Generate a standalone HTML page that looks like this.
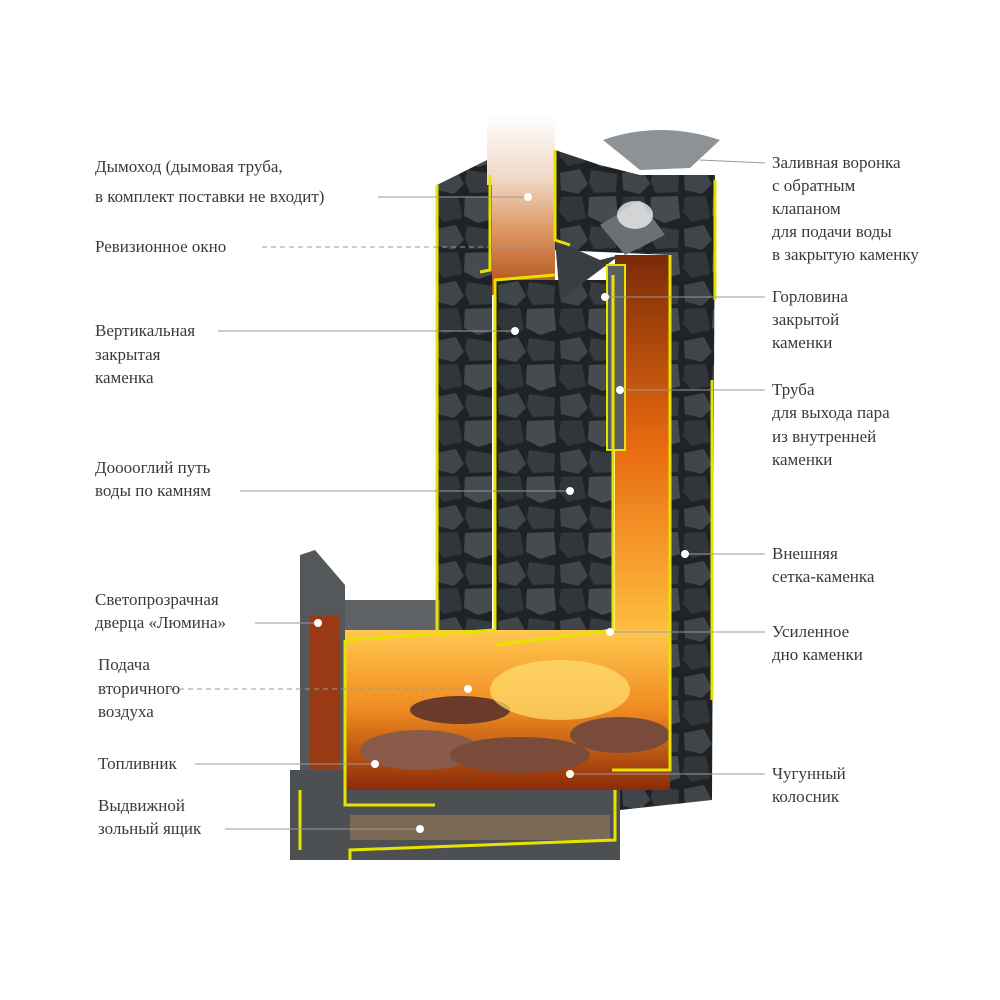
<!DOCTYPE html>
<html><head><meta charset="utf-8"><style>
html,body{margin:0;padding:0;background:#fff;width:1000px;height:1000px;overflow:hidden}
svg{display:block}
text{font-family:"Liberation Serif",serif;font-size:17px;fill:#3a3a3a}
</style></head><body>
<svg width="1000" height="1000" viewBox="0 0 1000 1000" xmlns="http://www.w3.org/2000/svg">
<defs>
<linearGradient id="pipe" x1="0" y1="0" x2="0" y2="1">
<stop offset="0" stop-color="#fff"/><stop offset="0.35" stop-color="#f1d8c8"/><stop offset="0.6" stop-color="#e0a070"/><stop offset="1" stop-color="#b04a10"/></linearGradient>
<linearGradient id="fire" x1="0" y1="0" x2="0" y2="1">
<stop offset="0" stop-color="#ffc850"/><stop offset="0.5" stop-color="#f08a20"/><stop offset="1" stop-color="#8a2a08"/></linearGradient>
<linearGradient id="fireV" x1="0" y1="0" x2="0" y2="1">
<stop offset="0" stop-color="#7a2a08"/><stop offset="0.5" stop-color="#e86a10"/><stop offset="1" stop-color="#ffc040"/></linearGradient>
<pattern id="stones" width="62" height="56" patternUnits="userSpaceOnUse">
<rect width="62" height="56" fill="#1f2326"/>
<polygon points="2,5 22,1 30,16 20,26 3,22" fill="#3f4548"/>
<polygon points="33,2 59,6 58,24 36,25 31,14" fill="#353b3e"/>
<polygon points="3,29 24,28 28,50 10,54 1,44" fill="#30363a"/>
<polygon points="31,29 58,28 60,50 44,55 30,48" fill="#454b4f"/>
</pattern>
</defs>

<rect x="487" y="115" width="68" height="180" fill="url(#pipe)"/>
<path d="M437,185 L487,160 L487,295 L437,295Z" fill="url(#stones)"/>
<rect x="437" y="185" width="55" height="445" fill="url(#stones)"/>
<path d="M555,150 L600,165 L640,175 L715,175 L712,800 L620,810 L620,630 L670,630 L670,255 L555,250Z" fill="url(#stones)"/>
<rect x="615" y="255" width="55" height="380" fill="url(#fireV)"/>
<rect x="495" y="280" width="118" height="350" fill="url(#stones)"/>
<path d="M555,240 L600,260 L620,255 L560,300Z" fill="#3a3e40"/>
<rect x="607" y="265" width="18" height="185" fill="#5a5f62" stroke="#e8e200" stroke-width="2"/>
<path d="M603,140 Q660,120 720,140 L690,168 L640,170Z" fill="#8d9296"/>
<path d="M600,225 L640,200 L665,235 L625,255Z" fill="#6a7074"/>
<ellipse cx="635" cy="215" rx="18" ry="14" fill="#eeeeee" opacity="0.8"/>
<path d="M300,555 L315,550 L345,585 L345,850 L300,850Z" fill="#55585a"/>
<rect x="310" y="615" width="30" height="175" fill="#9a3a14"/>
<rect x="345" y="600" width="95" height="40" fill="#606365"/>
<rect x="290" y="770" width="330" height="90" fill="#4d5052"/>
<rect x="350" y="815" width="260" height="25" fill="#7a6a55"/>
<rect x="345" y="630" width="325" height="160" fill="url(#fire)"/>
<ellipse cx="420" cy="750" rx="60" ry="20" fill="#8a5a4a"/>
<ellipse cx="520" cy="755" rx="70" ry="18" fill="#7a4a3a"/>
<ellipse cx="620" cy="735" rx="50" ry="18" fill="#7a4a3a"/>
<ellipse cx="460" cy="710" rx="50" ry="14" fill="#6a3a2a"/>
<ellipse cx="560" cy="690" rx="70" ry="30" fill="#ffe070" opacity="0.7"/>
<g fill="none" stroke="#e8e200" stroke-width="3">
<path d="M437,185 L437,630 M490,175 L490,270 L480,272"/>
<path d="M495,630 L495,280 L555,275"/>
<path d="M613,630 L613,275 M670,255 L670,770 L612,770"/>
<path d="M345,640 L495,630 M495,645 L613,630 M345,640 L345,805 L435,805 M615,790 L615,840 L350,850 L350,860 M300,790 L300,850"/>
<path d="M555,150 L555,240 L570,245"/>
<path d="M715,180 L715,300 M712,380 L712,700"/>
</g>
<g stroke="#999" stroke-width="1" fill="none">
<line x1="378" y1="197" x2="528" y2="197"/>
<line x1="262" y1="247" x2="555" y2="247" stroke-dasharray="5,4"/>
<line x1="218" y1="331" x2="515" y2="331"/>
<line x1="240" y1="491" x2="570" y2="491"/>
<line x1="255" y1="623" x2="318" y2="623"/>
<line x1="170" y1="689" x2="468" y2="689" stroke-dasharray="5,4"/>
<line x1="195" y1="764" x2="375" y2="764"/>
<line x1="225" y1="829" x2="420" y2="829"/>
<line x1="700" y1="160" x2="765" y2="163"/>
<line x1="605" y1="297" x2="765" y2="297"/>
<line x1="620" y1="390" x2="765" y2="390"/>
<line x1="685" y1="554" x2="765" y2="554"/>
<line x1="610" y1="632" x2="765" y2="632"/>
<line x1="570" y1="774" x2="765" y2="774"/>
</g>
<g fill="#fff">
<circle cx="528" cy="197" r="4"/><circle cx="515" cy="331" r="4"/><circle cx="570" cy="491" r="4"/>
<circle cx="318" cy="623" r="4"/><circle cx="468" cy="689" r="4"/><circle cx="375" cy="764" r="4"/>
<circle cx="420" cy="829" r="4"/><circle cx="605" cy="297" r="4"/><circle cx="620" cy="390" r="4"/>
<circle cx="685" cy="554" r="4"/><circle cx="610" cy="632" r="4"/><circle cx="570" cy="774" r="4"/>
</g>
<text x="95" y="172">Дымоход (дымовая труба,</text>
<text x="95" y="202">в комплект поставки не входит)</text>
<text x="95" y="252">Ревизионное окно</text>
<text x="95" y="336">Вертикальная</text>
<text x="95" y="360">закрытая</text>
<text x="95" y="383">каменка</text>
<text x="95" y="473">Дооооглий путь</text>
<text x="95" y="496">воды по камням</text>
<text x="95" y="605">Светопрозрачная</text>
<text x="95" y="628">дверца «Люмина»</text>
<text x="98" y="670">Подача</text>
<text x="98" y="694">вторичного</text>
<text x="98" y="717">воздуха</text>
<text x="98" y="769">Топливник</text>
<text x="98" y="811">Выдвижной</text>
<text x="98" y="834">зольный ящик</text>
<text x="772" y="168">Заливная воронка</text>
<text x="772" y="191">с обратным</text>
<text x="772" y="214">клапаном</text>
<text x="772" y="237">для подачи воды</text>
<text x="772" y="260">в закрытую каменку</text>
<text x="772" y="302">Горловина</text>
<text x="772" y="325">закрытой</text>
<text x="772" y="348">каменки</text>
<text x="772" y="395">Труба</text>
<text x="772" y="418">для выхода пара</text>
<text x="772" y="442">из внутренней</text>
<text x="772" y="465">каменки</text>
<text x="772" y="559">Внешняя</text>
<text x="772" y="582">сетка-каменка</text>
<text x="772" y="637">Усиленное</text>
<text x="772" y="660">дно каменки</text>
<text x="772" y="779">Чугунный</text>
<text x="772" y="802">колосник</text>
</svg>
</body></html>
